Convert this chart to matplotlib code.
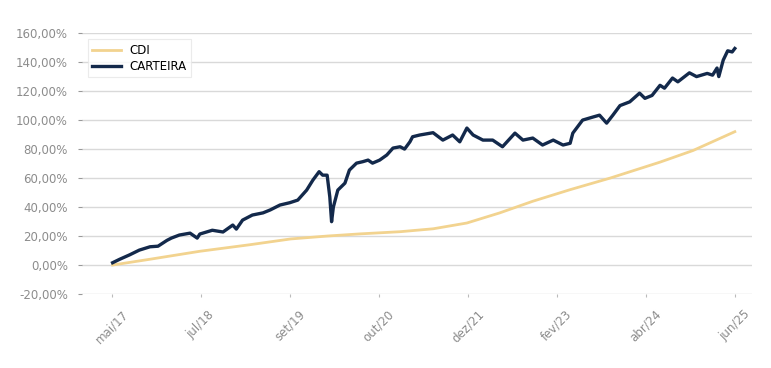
import matplotlib
matplotlib.use("Agg")
import matplotlib.pyplot as plt
from matplotlib.ticker import FuncFormatter

# x positions are in tick-period units (0 = mai/17 ... 7 = jun/25)
tick_labels = ["mai/17", "jul/18", "set/19", "out/20", "dez/21", "fev/23", "abr/24", "jun/25"]

carteira_x = [0.01, 0.09, 0.20, 0.31, 0.43, 0.52, 0.62, 0.67, 0.76, 0.88, 0.96, 0.99,
              1.13, 1.25, 1.36, 1.40, 1.47, 1.58, 1.70, 1.78, 1.89, 2.00, 2.09, 2.19,
              2.26, 2.33, 2.37, 2.42, 2.45, 2.47, 2.49, 2.54, 2.62, 2.67, 2.75, 2.82,
              2.88, 2.93, 3.01, 3.09, 3.16, 3.24, 3.29, 3.35, 3.38, 3.46, 3.61, 3.72,
              3.83, 3.91, 3.99, 4.06, 4.17, 4.28, 4.39, 4.53, 4.62, 4.73, 4.84, 4.96,
              5.07, 5.15, 5.18, 5.29, 5.40, 5.48, 5.56, 5.63, 5.71, 5.82, 5.93, 5.99,
              6.07, 6.16, 6.21, 6.30, 6.36, 6.49, 6.57, 6.69, 6.75, 6.80, 6.82, 6.87,
              6.92, 6.97, 7.00]
carteira_y = [1.6, 4.0, 7.0, 10.3, 12.6, 13.0, 17.0, 18.6, 20.7, 22.0, 18.6, 21.4,
              24.0, 22.8, 27.6, 24.8, 31.0, 34.5, 36.0, 38.0, 41.4, 43.0, 44.8, 51.7,
              58.6, 64.4, 62.0, 62.0, 47.0, 29.9, 40.0, 51.7, 56.5, 65.5, 70.3, 71.3,
              72.4, 70.3, 72.4, 75.9, 80.7, 81.6, 80.0, 85.0, 88.5, 89.7, 91.3, 86.2,
              89.7, 85.0, 94.5, 89.7, 86.2, 86.2, 81.6, 91.0, 86.2, 87.6, 82.8, 86.2,
              82.8, 84.0, 91.0, 100.0, 102.0, 103.4, 97.9, 103.4, 110.0, 112.6, 118.6, 115.0,
              117.0, 124.0, 122.0, 129.0, 126.4, 132.6, 130.0, 132.2, 131.0, 135.9, 130.0, 141.4,
              147.8, 147.0, 149.4]

cdi_x = [0.01, 0.43, 0.99, 1.55, 2.01, 2.42, 2.79, 3.24, 3.61, 3.99, 4.36, 4.73,
         5.15, 5.60, 6.16, 6.53, 7.00]
cdi_y = [0.0, 4.0, 9.5, 14.0, 18.0, 20.0, 21.5, 23.0, 25.0, 29.0, 36.0, 44.0,
         52.0, 60.0, 71.0, 79.0, 92.0]

fig = plt.figure(figsize=(7.71, 3.68), dpi=100)
ax = fig.add_axes([0.106, 0.201, 0.869, 0.709])

ax.plot(cdi_x, cdi_y, color="#f2d38f", lw=2.0, label="CDI", zorder=3)
ax.plot(carteira_x, carteira_y, color="#13294b", lw=2.4, label="CARTEIRA", zorder=4)

ax.set_ylim(-20, 160)
ax.set_yticks(range(-20, 161, 20))
ax.yaxis.set_major_formatter(FuncFormatter(lambda v, p: f"{v:.2f}%".replace(".", ",")))
ax.set_xlim(-0.337, 7.19)
ax.set_xticks(range(len(tick_labels)))
ax.set_xticklabels(tick_labels, rotation=45, ha="center")

ax.grid(axis="y", color="#d9d9d9", lw=1.0)
ax.set_axisbelow(True)
for s in ax.spines.values():
    s.set_visible(False)

ax.tick_params(axis="y", colors="#999999", labelcolor="#8c8c8c", labelsize=8.5, length=3, pad=7)
ax.tick_params(axis="x", colors="#bbbbbb", labelcolor="#8c8c8c", labelsize=8.5, length=2, pad=8)

leg = ax.legend(loc="upper left", bbox_to_anchor=(0.0, 1.0), fontsize=8.5, frameon=True,
                fancybox=False, edgecolor="#e6e6e6", handlelength=2.4, borderpad=0.4,
                labelspacing=0.25, handletextpad=0.7)
leg.get_frame().set_linewidth(0.8)

fig.savefig("out.png", dpi=100)
